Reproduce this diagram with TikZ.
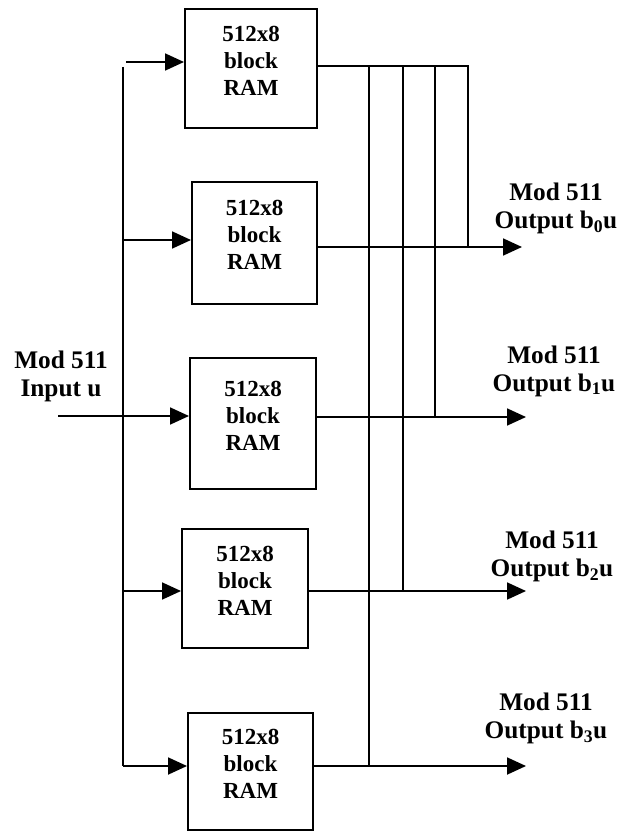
\documentclass[tikz,border=0pt]{standalone}
\usepackage{fontspec}
\setmainfont{Liberation Serif}
\usetikzlibrary{arrows.meta}
\begin{document}
\begin{tikzpicture}[x=1pt,y=-1pt,
  wire/.style={line width=1.8pt},
  arr/.style={wire,-{Triangle[length=19pt,width=17pt]}},
  ram/.style={draw,line width=2pt,inner sep=0pt},
  ramtxt/.style={align=center,font=\fontsize{23}{27}\selectfont\bfseries,inner sep=0pt},
  lbl/.style={align=center,font=\fontsize{25.3}{28}\selectfont\bfseries,inner sep=0pt}]
\useasboundingbox (0,0) rectangle (621,832);
% boxes
\node[ram,minimum width=132pt,minimum height=119pt] (b1) at (251,68.5) {};
\node[ram,minimum width=125pt,minimum height=122pt] (b2) at (254.5,243) {};
\node[ram,minimum width=126pt,minimum height=131pt] (b3) at (253,423.5) {};
\node[ram,minimum width=126pt,minimum height=119pt] (b4) at (245,588.5) {};
\node[ram,minimum width=125pt,minimum height=117pt] (b5) at (250.5,771.5) {};
\foreach \i in {1,...,5}{
  \node[ramtxt] (t\i) at ([yshift=8pt]b\i.center) {512x8\\block\\RAM};
}
% input side
\node[lbl] (inl) at (61,376.5) {Mod 511\\Input u};
\coordinate (in) at (58,416);
\coordinate (tap1) at (126,62);
\coordinate (bustop) at (123,67);
\coordinate (tap2) at (123,240);
\coordinate (tap4) at (123,591);
\coordinate (busbot) at (123,766);
\draw[wire] (bustop) -- (busbot);
\draw[arr] (tap1) -- (tap1 -| b1.west);
\draw[arr] (tap2) -- (tap2 -| b2.west);
\draw[arr] (in) -- (in -| b3.west);
\draw[arr] (tap4) -- (tap4 -| b4.west);
\draw[arr] (busbot) -- (busbot -| b5.west);
% output side
\coordinate (e0) at (522,247);
\coordinate (e1) at (526,417);
\coordinate (e2) at (526,591);
\coordinate (e3) at (526,766);
\coordinate (v1) at (369,66);
\coordinate (v2) at (403,66);
\coordinate (v3) at (435,66);
\coordinate (v4) at (468,66);
\draw[wire] (v4 -| b1.east) -- (v4) -- (v4 |- e0);
\draw[wire] (v1) -- (v1 |- e3);
\draw[wire] (v2) -- (v2 |- e2);
\draw[wire] (v3) -- (v3 |- e1);
\draw[arr] (e0 -| b2.east) -- (e0);
\draw[arr] (e1 -| b3.east) -- (e1);
\draw[arr] (e2 -| b4.east) -- (e2);
\draw[arr] (e3 -| b5.east) -- (e3);
\node[lbl] (o0) at (556,208.5) {Mod 511\\Output b\textsubscript{0}u};
\node[lbl] (o1) at (554,371) {Mod 511\\Output b\textsubscript{1}u};
\node[lbl] (o2) at (552,556.5) {Mod 511\\Output b\textsubscript{2}u};
\node[lbl] (o3) at (546,718.5) {Mod 511\\Output b\textsubscript{3}u};
\end{tikzpicture}
\end{document}
